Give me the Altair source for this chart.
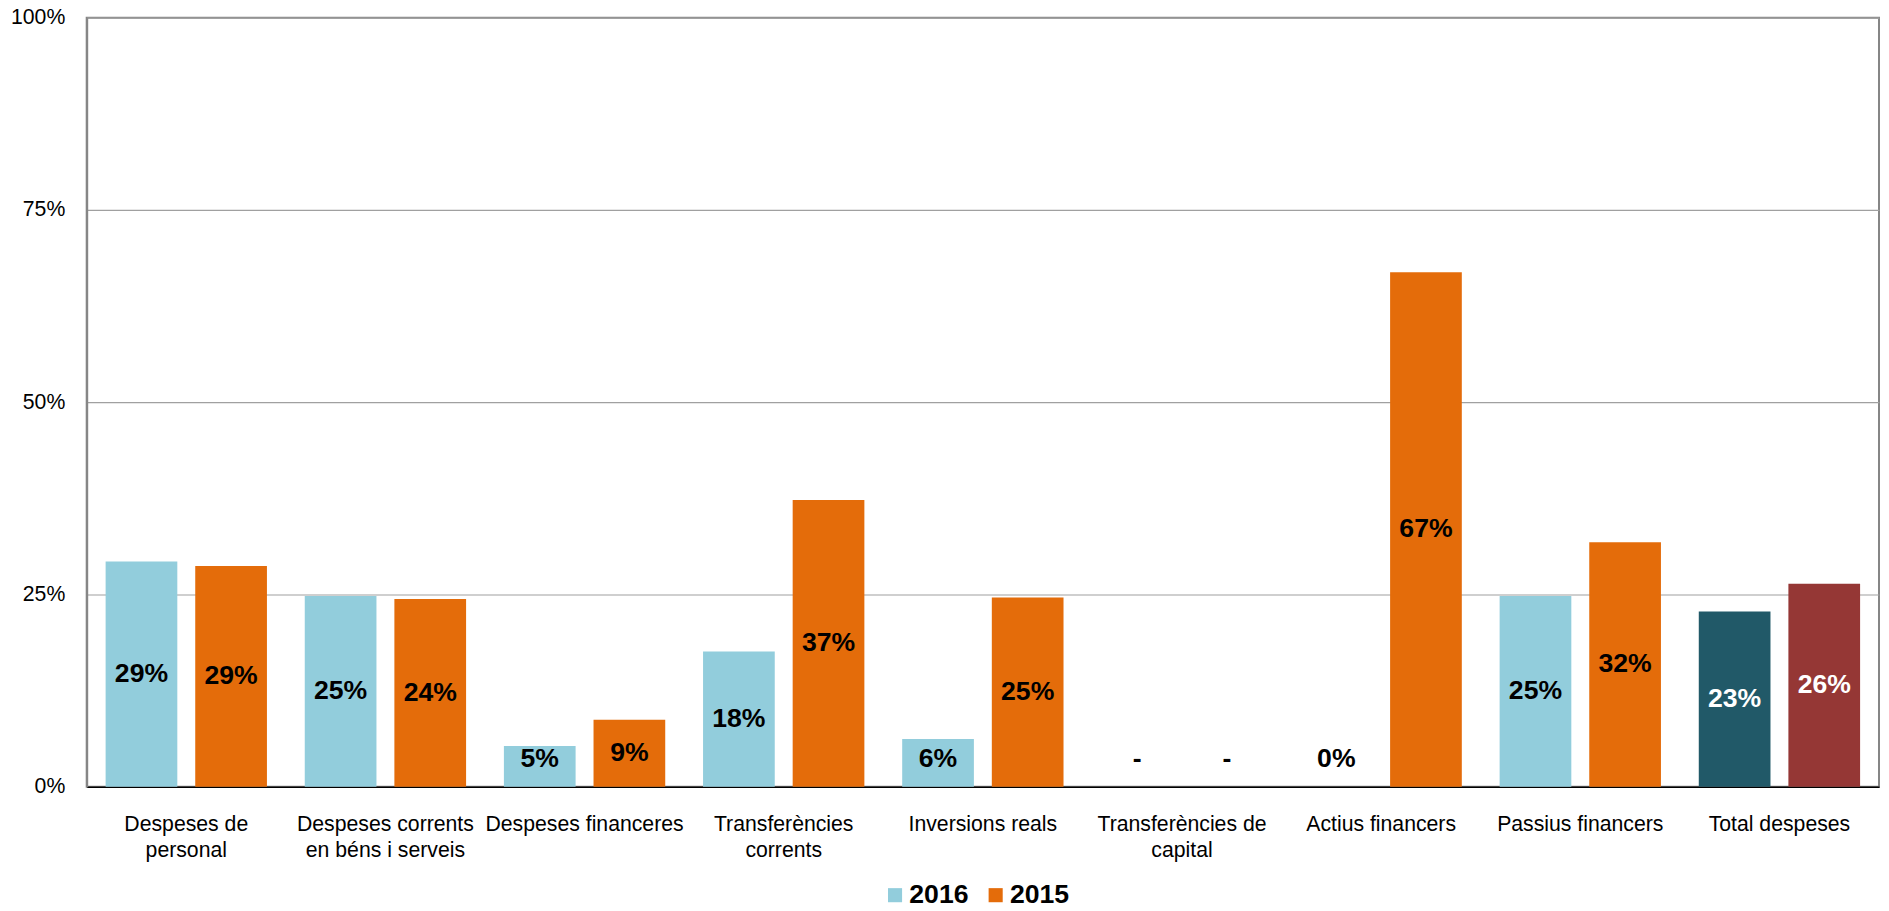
import json
import altair as alt
import pandas as pd

categories = [
    "Despeses de personal",
    "Despeses corrents en béns i serveis",
    "Despeses financeres",
    "Transferències corrents",
    "Inversions reals",
    "Transferències de capital",
    "Actius financers",
    "Passius financers",
    "Total despeses",
]
label_lines = [
    ["Despeses de", "personal"],
    ["Despeses corrents", "en béns i serveis"],
    ["Despeses financeres"],
    ["Transferències", "corrents"],
    ["Inversions reals"],
    ["Transferències de", "capital"],
    ["Actius financers"],
    ["Passius financers"],
    ["Total despeses"],
]
years = ["2016", "2015"]
values_2016 = [29.3, 24.8, 5.3, 17.6, 6.2, None, 0.0, 24.8, 22.8]
values_2015 = [28.7, 24.4, 8.7, 37.3, 24.6, None, 66.9, 31.8, 26.4]

color_keys = ["2016", "2015", "Total 2016", "Total 2015"]
color_range = ["#92CDDC", "#E46C0A", "#215968", "#953735"]

rows = []
for i, c in enumerate(categories):
    for y, vals in zip(years, [values_2016, values_2015]):
        total = c == "Total despeses"
        rows.append({
            "cat": c,
            "year": y,
            "v": vals[i],
            "ck": ("Total " + y) if total else y,
            "tc": "white" if total else "black",
        })
df = pd.DataFrame(rows)

label_map = json.dumps(dict(zip(categories, label_lines)), ensure_ascii=False)

FONT = "Liberation Sans"

base = alt.Chart(df).encode(
    x=alt.X("cat:N", sort=categories,
            scale=alt.Scale(paddingInner=0, paddingOuter=0),
            axis=alt.Axis(title=None, labelAngle=0, labelFontSize=21.3, labelColor="#000000",
                          labelFont=FONT, labelPadding=27, ticks=False, labelLineHeight=26,
                          labelExpr=f"{label_map}[datum.label]", labelLimit=400,
                          domainColor="#000000", domainWidth=1.5, grid=False,
                          labelBaseline="top")),
    xOffset=alt.XOffset("year:N", sort=years,
                        scale=alt.Scale(paddingInner=0.2, paddingOuter=0.211)),
)

bars = base.mark_bar().encode(
    y=alt.Y("v:Q", scale=alt.Scale(domain=[0, 100], nice=False),
            axis=alt.Axis(title=None, values=[0, 25, 50, 75, 100],
                          labelExpr="datum.value + '%'", labelFontSize=21.3,
                          labelFont=FONT, labelColor="#000000", labelPadding=22,
                          ticks=False, domainColor="#868686", domainWidth=2,
                          gridColor="#A0A0A0", gridWidth=1.2)),
    color=alt.Color("ck:N", scale=alt.Scale(domain=color_keys, range=color_range),
                    legend=alt.Legend(values=["2016", "2015"], title=None, orient="none",
                                      direction="horizontal", legendX=798, legendY=867,
                                      symbolType="square", symbolSize=200,
                                      symbolStrokeWidth=0, labelFontSize=26.7,
                                      labelFontWeight="bold", labelFont=FONT,
                                      labelColor="#000000", columnPadding=13,
                                      labelOffset=1)),
)

texts = base.mark_text(fontSize=26.7, fontWeight="bold", font=FONT, baseline="middle").transform_calculate(
    ly="max((datum.v == null ? 0 : datum.v) / 2, 3.6)",
    lbl="datum.v == null ? '-' : format(datum.v, '.0f') + '%'",
).encode(
    y=alt.Y("ly:Q"),
    text=alt.Text("lbl:N"),
    color=alt.Color("tc:N", scale=None),
)

chart = alt.layer(bars, texts).properties(
    width=1799, height=772,
    autosize=alt.AutoSizeParams(type="none"),
    padding={"left": 79, "top": 8, "right": 2, "bottom": 117},
).configure_view(stroke="#868686", strokeWidth=2).configure_axis(grid=True)

chart.save("out.html", embed_options={"renderer": "svg", "actions": False})
